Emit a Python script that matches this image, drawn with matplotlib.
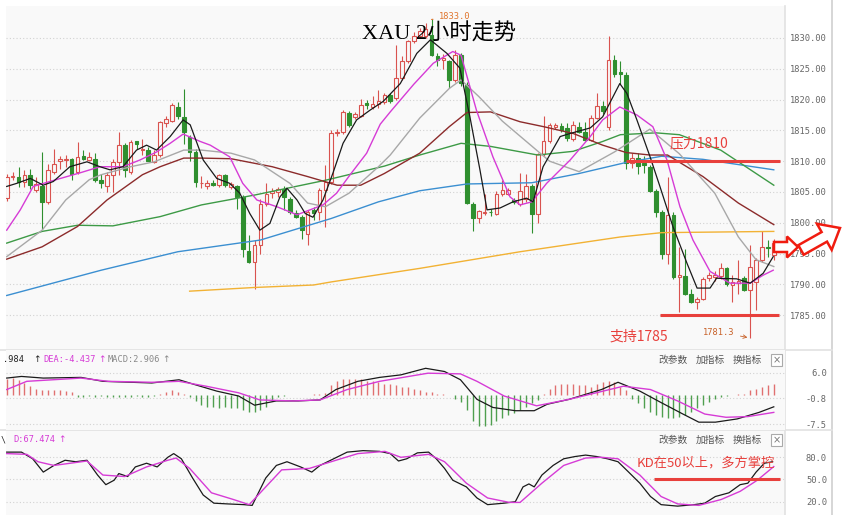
"""XAU 2-hour candlestick chart with MA, MACD and KD panels."""
import matplotlib
matplotlib.use("Agg")
import matplotlib.pyplot as plt
from matplotlib.lines import Line2D
from matplotlib.patches import FancyArrow
import numpy as np

# ---- candles (2h bars) ----
opens = [1804.0, 1807.4, 1807.4, 1806.6, 1807.7, 1805.4, 1806.0, 1803.4, 1808.3, 1810.0,
         1810.2, 1810.3, 1808.2, 1810.8, 1810.2, 1810.4, 1806.9, 1805.9, 1807.7, 1809.9,
         1812.6, 1808.3, 1813.2, 1811.8, 1811.8, 1809.9, 1811.0, 1816.2, 1816.6, 1818.8,
         1817.2, 1813.9, 1811.5, 1806.4, 1805.9, 1806.4, 1806.1, 1807.7, 1805.8, 1805.9,
         1804.2, 1795.5, 1793.6, 1796.4, 1803.1, 1804.8, 1805.0, 1805.5, 1803.9, 1801.6,
         1800.9, 1798.2, 1802.1, 1801.8, 1805.3, 1806.6, 1814.5, 1814.7, 1817.8, 1817.2,
         1817.4, 1819.4, 1818.8, 1819.3, 1819.6, 1820.8, 1820.2, 1823.5, 1826.2, 1829.5,
         1830.3, 1830.3, 1830.5, 1827.0, 1826.5, 1826.2, 1823.2, 1827.3, 1822.4, 1803.0,
         1800.8, 1801.6, 1801.8, 1801.5, 1804.6, 1804.7, 1803.7, 1803.0, 1803.8, 1806.0,
         1801.4, 1811.1, 1813.2, 1815.6, 1815.7, 1815.4, 1813.6, 1815.6, 1814.8, 1813.5,
         1817.0, 1818.9, 1815.6, 1826.4, 1824.5, 1824.0, 1809.7, 1810.5, 1809.7, 1809.0,
         1805.2, 1801.7, 1795.0, 1801.2, 1791.2, 1791.4, 1788.5, 1787.2, 1787.7, 1791.0,
         1791.2, 1791.4, 1792.6, 1789.9, 1790.2, 1791.0, 1789.1, 1790.4, 1794.0, 1796.1,
         1794.8]
highs = [1808.0, 1808.2, 1809.0, 1808.5, 1808.8, 1807.4, 1811.5, 1809.6, 1812.0, 1810.8,
         1811.0, 1810.5, 1813.1, 1811.8, 1811.5, 1811.3, 1808.0, 1808.2, 1810.4, 1814.7,
         1812.9, 1813.4, 1813.2, 1813.6, 1812.3, 1811.8, 1816.6, 1817.4, 1819.4, 1819.6,
         1821.7, 1814.2, 1812.0, 1807.6, 1806.9, 1806.9, 1808.0, 1808.0, 1806.6, 1806.2,
         1804.5, 1798.0, 1797.2, 1803.9, 1806.4, 1805.6, 1805.8, 1806.0, 1804.2, 1802.0,
         1801.2, 1802.1, 1802.6, 1805.6, 1809.3, 1815.0, 1815.2, 1818.3, 1818.1, 1818.0,
         1820.1, 1820.0, 1820.6, 1821.5, 1821.0, 1821.0, 1828.9, 1827.0, 1829.7, 1831.0,
         1831.6, 1832.4, 1833.0, 1827.5, 1827.4, 1826.5, 1828.1, 1827.6, 1822.8, 1803.3,
         1802.1, 1804.6, 1802.3, 1805.1, 1807.0, 1805.6, 1804.1, 1808.1, 1807.9, 1806.3,
         1811.4, 1817.3, 1816.2, 1816.2, 1816.2, 1816.2, 1816.5, 1816.3, 1816.4, 1817.5,
         1821.0, 1819.7, 1830.4, 1827.3, 1826.2, 1824.5, 1811.3, 1811.3, 1810.8, 1809.4,
         1805.5, 1802.0, 1807.4, 1801.7, 1796.0, 1795.8, 1789.3, 1788.0, 1791.2, 1792.0,
         1792.2, 1793.4, 1792.9, 1791.5, 1794.0, 1791.3, 1796.4, 1794.3, 1798.7, 1797.2,
         1797.3]
lows = [1803.5, 1806.9, 1805.8, 1805.8, 1805.5, 1805.0, 1799.0, 1803.0, 1808.0, 1808.7,
        1809.0, 1806.9, 1807.9, 1810.2, 1810.1, 1806.7, 1805.6, 1805.0, 1805.0, 1807.7,
        1807.4, 1807.9, 1812.0, 1811.0, 1810.0, 1809.7, 1810.7, 1815.6, 1816.3, 1816.9,
        1812.8, 1810.1, 1805.8, 1805.7, 1805.5, 1805.9, 1805.8, 1805.8, 1805.5, 1802.3,
        1794.5, 1793.4, 1789.3, 1795.0, 1802.7, 1804.1, 1804.2, 1802.0, 1801.5, 1800.7,
        1797.4, 1796.4, 1800.5, 1800.5, 1799.3, 1806.3, 1814.1, 1814.4, 1815.5, 1816.9,
        1817.1, 1818.5, 1818.4, 1818.6, 1819.3, 1819.5, 1820.0, 1823.2, 1826.0, 1829.2,
        1830.0, 1830.0, 1827.0, 1825.4, 1825.0, 1821.9, 1822.8, 1822.2, 1803.0, 1798.6,
        1800.0, 1801.3, 1801.1, 1801.2, 1804.3, 1804.5, 1803.0, 1802.7, 1803.3, 1798.4,
        1800.0, 1810.9, 1813.0, 1815.2, 1814.8, 1813.3, 1813.2, 1814.5, 1813.2, 1813.2,
        1816.8, 1817.7, 1815.0, 1823.7, 1822.6, 1808.7, 1808.9, 1807.9, 1808.1, 1805.0,
        1800.9, 1794.2, 1793.3, 1790.9, 1785.5, 1788.2, 1786.9, 1786.0, 1787.4, 1790.5,
        1790.6, 1790.8, 1789.7, 1787.2, 1788.4, 1788.9, 1781.3, 1785.8, 1793.6, 1794.4,
        1794.0]
closes = [1807.4, 1807.5, 1806.6, 1807.7, 1806.1, 1806.3, 1803.4, 1808.5, 1809.6, 1810.3,
          1810.4, 1808.0, 1810.7, 1810.4, 1810.7, 1806.9, 1806.4, 1807.7, 1809.9, 1812.6,
          1808.5, 1813.1, 1812.8, 1811.9, 1810.1, 1811.0, 1816.4, 1816.8, 1819.1, 1817.4,
          1814.7, 1811.5, 1806.6, 1806.5, 1806.5, 1806.2, 1807.7, 1806.1, 1806.3, 1804.2,
          1795.8, 1793.6, 1796.4, 1803.1, 1804.7, 1805.1, 1805.5, 1804.2, 1801.8, 1801.0,
          1798.8, 1801.8, 1801.6, 1805.3, 1806.6, 1814.5, 1814.8, 1818.0, 1815.8, 1817.7,
          1819.1, 1819.2, 1819.3, 1819.7, 1820.7, 1819.7, 1823.5, 1826.2, 1829.5, 1830.4,
          1831.1, 1831.4, 1827.3, 1826.5, 1826.7, 1823.2, 1827.3, 1822.7, 1803.2, 1800.8,
          1801.9, 1801.8, 1801.7, 1804.6, 1805.4, 1805.4, 1803.4, 1805.1, 1806.0, 1801.4,
          1811.1, 1813.2, 1815.9, 1815.8, 1815.1, 1813.8, 1815.8, 1814.8, 1813.5, 1817.0,
          1818.9, 1818.1, 1826.4, 1824.2, 1824.2, 1809.7, 1810.5, 1809.2, 1809.4, 1805.2,
          1801.7, 1795.0, 1801.2, 1791.2, 1791.5, 1788.5, 1787.2, 1787.7, 1790.9, 1791.6,
          1791.6, 1792.6, 1790.0, 1790.4, 1790.6, 1789.1, 1792.8, 1794.0, 1796.1, 1795.9,
          1796.7]

# ---- moving averages (x = bar number) ----
ma5_x = [1, 2.7, 5, 7.2, 8.9, 11.7, 14.6, 16.8, 18.5, 20.7, 23, 24.7, 26.4, 28.7, 30.9,
         32.1, 34.3, 36.6, 38.8, 40.5, 42.2, 43.9, 45.6, 47.3, 48.5, 50.2, 51.6, 52.9, 54.6,
         56.3, 58, 60.3, 62.6, 64.8, 67.7, 70.5, 72.8, 75.6, 77.8, 79.5, 81.2, 82.4, 84.6,
         86.8, 89.1, 90.2, 91.9, 94.8, 96.5, 99.9, 102, 104.9, 106.1, 107.8, 110, 111.7,
         113.9, 116.3, 118, 120.2, 121.3, 124.7, 127, 129.2, 130.9]
ma5_v = [1805.9, 1806.4, 1807.2, 1806.1, 1806.7, 1809.1, 1809.9, 1809.1, 1808.6, 1809.1,
         1811.8, 1812.6, 1811.8, 1814.0, 1816.7, 1815.9, 1810.2, 1807.2, 1806.4, 1804.8,
         1801.5, 1798.8, 1799.9, 1804.2, 1805.6, 1803.7, 1801.5, 1800.9, 1803.7, 1808.1,
         1812.9, 1816.7, 1818.3, 1819.7, 1822.6, 1827.5, 1829.7, 1827.5, 1825.1, 1817.2,
         1808.6, 1802.1, 1802.4, 1803.4, 1804.0, 1803.4, 1809.1, 1814.0, 1814.5, 1815.4,
         1817.2, 1822.6, 1821.0, 1816.7, 1810.8, 1805.9, 1799.4, 1793.4, 1789.4, 1789.4,
         1791.0, 1790.9, 1790.2, 1791.8, 1794.5]
ma10_x = [1, 3.3, 5.5, 8.3, 11.2, 13.4, 16.8, 20.7, 23.6, 26.4, 28.7, 30.9, 33.8, 35.5,
          38.8, 41, 43.4, 46.8, 50.2, 52.4, 54.6, 56.9, 59.2, 62, 64.3, 66, 70, 73.3, 76.6,
          78, 80.6, 83.4, 86.3, 88, 90, 92.5, 96.5, 99.9, 102, 104.9, 107.8, 110.5, 112.9,
          115.1, 117.3, 120.2, 123.6, 127, 129.2, 130.9]
ma10_v = [1798.8, 1802.1, 1805.9, 1806.7, 1807.5, 1808.1, 1809.1, 1809.1, 1810.2, 1811.5,
          1812.9, 1814.4, 1813.2, 1812.6, 1810.7, 1806.4, 1803.7, 1802.6, 1801.3, 1802.1,
          1802.9, 1804.8, 1807.8, 1811.3, 1816.0, 1818.0, 1822.5, 1825.9, 1827.8, 1827.2,
          1818.3, 1810.7, 1804.2, 1802.9, 1803.4, 1806.4, 1810.2, 1814.0, 1816.7, 1818.8,
          1817.5, 1815.6, 1810.2, 1802.6, 1797.2, 1792.1, 1790.2, 1790.2, 1791.5, 1792.3]
ma20_x = [1, 7, 11, 15, 17, 22, 26, 31, 34, 39, 43, 49, 52, 55, 59, 64, 66, 71, 76, 78,
          81, 85, 93, 98, 104, 110, 115, 121, 125, 128, 131]
ma20_v = [1794.5, 1798.8, 1803.7, 1807.0, 1807.8, 1809.1, 1809.9, 1811.8, 1811.8, 1811.3,
          1810.2, 1806.4, 1803.2, 1802.6, 1804.8, 1809.1, 1811.0, 1817.0, 1821.8, 1823.2,
          1820.5, 1816.5, 1810.0, 1808.3, 1811.5, 1815.2, 1811.2, 1804.8, 1797.7, 1794.0,
          1792.9]
ma30_x = [1, 7, 13, 18, 24, 27, 31, 34, 39, 46, 52, 57, 61, 65, 71, 76, 79, 83, 88, 92,
          97, 102, 106, 110, 113, 119, 125, 131]
ma30_v = [1794.1, 1796.1, 1799.4, 1803.7, 1807.8, 1809.1, 1810.5, 1810.5, 1810.4, 1809.1,
          1807.5, 1806.1, 1806.1, 1808.0, 1811.3, 1815.6, 1817.9, 1818.0, 1816.4, 1815.6,
          1814.5, 1812.6, 1811.4, 1811.0, 1811.0, 1807.5, 1803.2, 1799.7]
ma60_x = [1, 7, 13, 19, 27, 34, 43, 55, 65, 71, 78, 83, 91, 97, 102, 105, 111, 115, 122, 131]
ma60_v = [1796.7, 1798.6, 1799.6, 1799.5, 1801.0, 1802.9, 1804.5, 1806.9, 1809.2, 1811.0,
          1812.9, 1812.4, 1811.0, 1811.6, 1813.2, 1814.3, 1814.6, 1814.3, 1811.8, 1806.1]
ma120_x = [1, 17, 30, 44, 56, 64, 71, 79, 90, 98, 106, 112, 119, 131]
ma120_v = [1788.2, 1792.3, 1795.3, 1797.2, 1800.7, 1803.4, 1805.2, 1806.3, 1806.5, 1808.0,
           1809.8, 1810.8, 1810.3, 1808.6]
ma250_x = [32, 43, 53, 56, 71, 88, 105, 112, 131]
ma250_v = [1788.9, 1789.5, 1789.9, 1790.4, 1792.6, 1795.3, 1797.7, 1798.4, 1798.6]

# ---- MACD ----
dif_x = [1, 3.5, 7.2, 13.6, 17.3, 25.6, 30.2, 32.9, 36.6, 40.3, 43, 46.7, 50.4, 54.1, 56.8,
         60.5, 64.2, 67.8, 72, 75.2, 77.9, 80.7, 83.4, 87.2, 90.4, 92.6, 96.3, 101.8, 104.6,
         108.3, 111.9, 115.6, 118.3, 121.1, 124.8, 128.5, 131]
dif_v = [4.54, 4.97, 4.54, 4.72, 3.69, 3.26, 4.10, 2.82, 1.13, -0.15, -2.56, -1.44, -1.44,
         -1.18, 1.54, 3.69, 4.72, 5.38, 7.1, 6.26, 4.1, -1.03, -3.15, -4.0, -4.0, -2.31,
         -1.03, 1.54, 3.44, 1.13, -1.87, -4.87, -7.0, -7.0, -6.15, -4.44, -2.98]
dea_x = [1, 4.4, 13.6, 18.2, 25.6, 30.2, 34.8, 40.3, 43.9, 49.5, 54.1, 58.7, 64.2, 72.4,
         77.9, 80.7, 85.3, 90.8, 96.3, 100.9, 105.5, 110.1, 114.7, 119.3, 122.9, 126.6, 131]
dea_v = [1.54, 3.69, 4.54, 3.69, 3.44, 3.69, 2.41, 0.69, -1.18, -1.44, -1.18, 1.54, 3.69,
         5.82, 5.64, 3.69, -0.15, -2.72, -1.03, 0.69, 2.41, 1.54, -1.44, -4.87, -5.72,
         -5.54, -4.44]
macd_hist = [4.3, 4.6, 4.0, 3.3, 2.5, 1.8, 1.5, 1.5, 1.5, 1.5, 1.2, 0.8,
             -0.3, -0.4, -0.2, -0.3, -0.2, -0.3, -0.3, -0.4, -0.3, -0.3, -0.2, -0.3, -0.3, -0.2,
             0.5, 1.0, 1.3, 1.0, 0.5, -0.3,
             -1.5, -2.6, -3.0, -3.0, -3.4, -3.0, -3.4, -3.4, -3.8, -4.3, -4.3, -3.8, -3.0, -1.3,
             -0.3, -0.2, 0.2, 0.2, 0.2, 0.2, 0.3, 0.4, 0.6,
             2.6, 3.8, 4.3, 4.3, 4.3, 4.3, 3.8, 3.8, 3.4, 3.0, 3.0, 2.6, 2.1, 2.1, 1.7, 1.3, 0.9,
             0.8, 0.5, 0.3, 0.2,
             -0.9, -1.7, -3.8, -6.8, -8.1, -8.1, -7.7, -6.8, -6.0, -5.1, -4.7, -3.8, -3.0, -2.1, -1.3,
             0.4, 1.7, 2.6, 3.0, 3.0, 3.0, 2.6, 2.6, 2.1, 3.0, 3.4, 3.8, 3.4, 2.1, 1.3,
             -0.9, -2.1, -3.4, -4.3, -5.1, -5.6, -6.0, -6.0, -5.6, -5.1, -4.3, -3.4, -2.6, -1.7,
             -0.9, -0.4,
             -0.2, 0.2, 0.3, 0.4,
             1.3, 1.7, 2.1, 2.6, 2.9]

# ---- KD ----
k_x = [1, 3.5, 5.4, 7.2, 9, 10.9, 12.7, 14.6, 16.4, 17.8, 19.2, 20, 21.5, 22.8, 24.7, 26.5,
       28.3, 29.3, 30.6, 32.5, 34.3, 36.1, 38.4, 41.2, 42.6, 44.9, 46.7, 48.5, 50.8, 52.7,
       54.1, 55.9, 58.7, 61.4, 64.2, 66, 67.4, 68.8, 70.6, 72.5, 73.8, 75.2, 76.6, 78.9,
       80.7, 82.5, 85.3, 87.2, 88.5, 89.5, 90.4, 91.7, 93.6, 95.4, 97.3, 99.1, 101, 102.8,
       104.6, 106.4, 108.3, 110.1, 111.9, 114.7, 117.5, 119.3, 121.1, 123.4, 125.3, 126.6,
       128, 129.4, 130.8]
k_v = [87, 87, 78, 60, 69, 76, 74, 76, 56, 43, 49, 58, 54, 67, 72, 67, 80, 85, 78, 52,
       29, 18, 17, 16, 15, 52, 69, 74, 67, 60, 69, 76, 87, 89, 88, 85, 75, 78, 86, 87,
       78, 65, 49, 40, 25, 16, 18, 20, 40, 44, 40, 56, 69, 78, 81, 83, 81, 78, 74, 60,
       45, 27, 16, 14, 16, 18, 27, 32, 43, 45, 60, 72, 74]
d_x = [1, 4.4, 6.3, 9, 14.6, 17.3, 21, 24.7, 28.3, 29.7, 32, 35.7, 39.4, 42.1, 44.9, 47.6,
       52.3, 56.8, 60.5, 65.1, 67.8, 72.5, 75.2, 78.9, 82.5, 86.2, 88, 91.7, 95.4, 99.1,
       101.8, 104.6, 108.3, 111.9, 114.7, 118.3, 122.1, 125.3, 128.2, 131]
d_v = [85, 84, 74, 69, 75, 56, 54, 67, 76, 79, 65, 32, 23, 16, 40, 63, 65, 76, 85, 88,
       80, 84, 74, 45, 25, 19, 19, 45, 69, 79, 80, 78, 56, 27, 17, 15, 23, 34, 49, 67.5]

price_ticks = [1785, 1790, 1795, 1800, 1805, 1810, 1815, 1820, 1825, 1830]
macd_ticks = [6.0, -0.8, -7.5]
kd_ticks = [80.0, 50.0, 20.0]
resistance = 1810
support = 1785
peak_high = 1833.0
trough_low = 1781.3

W, H = 849, 515
BG = "#f9f9f9"
RED = "#d9534f"
GREEN = "#2f8f2f"
MARK = "#e8403c"
MONO = "DejaVu Sans Mono"
CJK = "Noto Sans CJK SC"


def rect(x0, y0, x1, y1):
    return [x0 / W, 1 - y1 / H, (x1 - x0) / W, (y1 - y0) / H]


def ftext(x, y, s, **kw):
    kw.setdefault("va", "center")
    return fig.text(x / W, 1 - y / H, s, **kw)


def style_panel(a, ticks, labels):
    a.set_facecolor(BG)
    for s in a.spines.values():
        s.set_visible(False)
    a.yaxis.tick_right()
    a.set_yticks(ticks)
    a.set_yticklabels(labels, fontfamily=MONO, fontsize=6.3, color="#666666", ha="right")
    a.tick_params(axis="y", length=0, pad=30.2)
    a.tick_params(axis="x", length=0, labelbottom=False)
    a.grid(axis="y", color="#d2d2d2", linestyle=(0, (1, 2)), linewidth=0.8)
    a.set_axisbelow(True)


fig = plt.figure(figsize=(W / 100, H / 100), dpi=100, facecolor="white")
ax = fig.add_axes(rect(6, 6, 785, 350))
ax_macd = fig.add_axes(rect(6, 350, 785, 430), sharex=ax)
ax_kd = fig.add_axes(rect(6, 430, 785, 515), sharex=ax)
ax_macd.set_zorder(2)

style_panel(ax, price_ticks, [f"{v:.2f}" for v in price_ticks])
style_panel(ax_macd, macd_ticks, [f"{v:.1f}" for v in macd_ticks])
style_panel(ax_kd, kd_ticks, [f"{v:.1f}" for v in kd_ticks])
ax.set_xlim(0.88, 132.9)
ax.set_ylim(1779.35, 1835.19)
ax_macd.set_ylim(-9.05, 11.89)
ax_kd.set_ylim(2.0, 116.9)

# candles
idx = np.arange(1, len(closes) + 1)
o, h, l, c = (np.array(v) for v in (opens, highs, lows, closes))
up = c >= o
col = np.where(up, RED, GREEN)
lo_b = np.minimum(o, c)
hi_b = np.maximum(o, c)
ax.vlines(idx, l, lo_b, colors=col, lw=0.8, zorder=2)
ax.vlines(idx, hi_b, h, colors=col, lw=0.8, zorder=2)
ax.bar(idx, np.maximum(hi_b - lo_b, 0.12), bottom=lo_b, width=0.62,
       color=np.where(up, BG, GREEN), edgecolor=col, linewidth=0.8, zorder=2)

# moving averages
ax.plot(ma250_x, ma250_v, color="#f2b234", lw=1.0, zorder=3)
ax.plot(ma120_x, ma120_v, color="#3b8fd1", lw=1.0, zorder=3)
ax.plot(ma60_x, ma60_v, color="#3d9a46", lw=1.0, zorder=3)
ax.plot(ma30_x, ma30_v, color="#8c2b2b", lw=1.0, zorder=3)
ax.plot(ma20_x, ma20_v, color="#a8a8a8", lw=1.0, zorder=3)
ax.plot(ma10_x, ma10_v, color="#d63bd6", lw=1.0, zorder=3)
ax.plot(ma5_x, ma5_v, color="#1a1a1a", lw=0.9, zorder=4)

# support / resistance
ax.hlines(resistance, 106, 132, color=MARK, lw=2.2, zorder=5)
ax.hlines(support, 111.7, 131.9, color=MARK, lw=2.2, zorder=5)
ax.annotate(f"{peak_high:.1f}", xy=(73, peak_high), xytext=(5, 2.5), textcoords="offset points",
            fontsize=6.3, family=MONO, color="#e0752d", va="center", zorder=6,
            arrowprops=dict(arrowstyle="-", color="#e0752d", lw=0.8))
ax.annotate(f"{trough_low:.1f}", xy=(127, trough_low), xytext=(-11, 4.3),
            textcoords="offset points", fontsize=6.3, family=MONO, color="#c8622a",
            ha="right", va="center", zorder=6,
            arrowprops=dict(arrowstyle="->", color="#c8622a", lw=0.6))

# MACD
ax_macd.vlines(idx, 0, macd_hist, colors=np.where(np.array(macd_hist) >= 0, "#e07070", "#4f9f4f"),
               lw=1.0, zorder=2)
ax_macd.plot(dif_x, dif_v, color="#1a1a1a", lw=0.9, zorder=3)
ax_macd.plot(dea_x, dea_v, color="#d63bd6", lw=1.0, zorder=3)

# KD
ax_kd.plot(k_x, k_v, color="#1a1a1a", lw=0.9, zorder=3)
ax_kd.plot(d_x, d_v, color="#d63bd6", lw=1.0, zorder=3)
ax_kd.hlines(50, 110.7, 132, color=MARK, lw=2.2, zorder=5)

# frame lines
for x0, y0, x1, y1, cl in [(785, 6, 785, 515, "#e2e2e2"), (832, 0, 832, 515, "#cfcfcf"),
                           (0, 350, 832, 350, "#e2e2e2"), (0, 430, 832, 430, "#e2e2e2")]:
    fig.add_artist(Line2D([x0 / W, x1 / W], [1 - y0 / H, 1 - y1 / H], color=cl, lw=1.2,
                          zorder=0.5))

# texts
ftext(362, 34, "XAU 2小时走势", fontsize=16, family=["Liberation Serif", CJK], color="black",
      zorder=10)
ftext(670, 143, "压力1810", fontsize=10, family=CJK, color=MARK)
ftext(610, 337, "支持1785", fontsize=10, family=CJK, color=MARK)
ftext(637, 463, "KD在50以上，多方掌控", fontsize=9.5, family=CJK, color=MARK)

# indicator headers (left part of the DIF / K readouts is cut off in the screenshot)
ftext(3, 360, ".984", fontsize=6.2, family=MONO, color="#222222")
ftext(33, 360, "↑", fontsize=6.5, family="DejaVu Sans", color="#222222")
ftext(43, 360, "DEA:-4.437", fontsize=6.2, family=MONO, color="#d63bd6")
ftext(98, 360, "↑", fontsize=6.5, family="DejaVu Sans", color="#d63bd6")
ftext(108, 360, "MACD:2.906", fontsize=6.2, family=MONO, color="#888888")
ftext(162, 360, "↑", fontsize=6.5, family="DejaVu Sans", color="#888888")
ftext(1, 440, "\\", fontsize=6.0, family=MONO, color="#222222")
ftext(13, 440, "D:67.474", fontsize=6.2, family=MONO, color="#d63bd6")
ftext(58, 440, "↑", fontsize=6.5, family="DejaVu Sans", color="#d63bd6")
for yy in (360, 440):
    ftext(658, yy, "改参数", fontsize=7, family=CJK, color="#555555")
    ftext(696, yy, "加指标", fontsize=7, family=CJK, color="#555555")
    ftext(733, yy, "换指标", fontsize=7, family=CJK, color="#555555")
    ftext(776.5, yy, "×", fontsize=7, family="DejaVu Sans", color="#777777", ha="center",
          bbox=dict(boxstyle="square,pad=0.15", fc="white", ec="#aaaaaa", lw=0.8))

# red outline arrows at the right edge
for x, y, dx, dy, w, hw, hl in [(774, 247, 24, 0, 10, 21, 11), (801, 250, 39, -22, 11, 30, 18)]:
    fig.add_artist(FancyArrow(x / 100, (H - y) / 100, dx / 100, -dy / 100, width=w / 100,
                              head_width=hw / 100, head_length=hl / 100,
                              length_includes_head=True, facecolor="white",
                              edgecolor="#f01c10", lw=1.8, transform=fig.dpi_scale_trans))

fig.savefig("out.png", dpi=100)
